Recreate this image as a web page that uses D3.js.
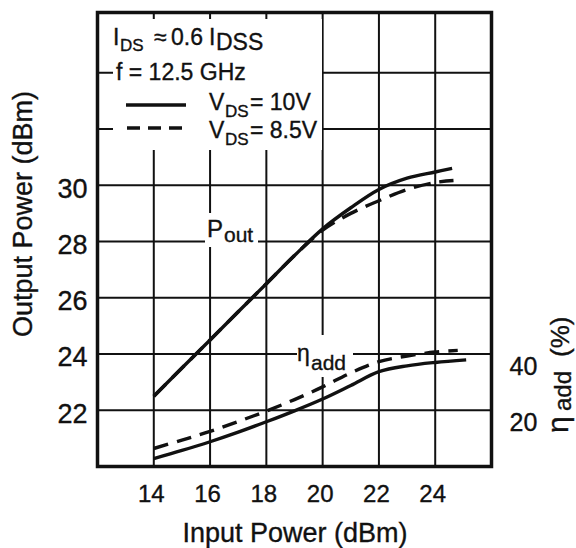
<!DOCTYPE html>
<html><head><meta charset="utf-8">
<script src="https://cdn.jsdelivr.net/npm/d3@7"></script>
<style>
body{margin:0;background:#fff}
svg{display:block;background:#fff}
text{font-family:"Liberation Sans",Arial,Helvetica,sans-serif;fill:#111;stroke:#111;stroke-width:0.35px}
</style>
</head><body><svg id="c" width="576" height="548"></svg>
<script>
// ---- data ----
const xTicks = [14, 16, 18, 20, 22, 24];
const yTicks = [22, 24, 26, 28, 30];
const etaTicks = [20, 40];
const xGrid = [14, 16, 18, 20, 22, 24];
const yGrid = [22, 24, 26, 28, 30, 32, 34];

const xPoutSolid = [14, 15, 16, 17, 18, 19, 20, 21, 22, 23, 24, 24.6];
const poutSolid  = [22.5, 23.5, 24.5, 25.5, 26.5, 27.5, 28.45, 29.2, 29.85, 30.25, 30.47, 30.6];
const xPoutDashed = [14, 15, 16, 17, 18, 19, 20, 21, 22, 23, 24, 24.65];
const poutDashed  = [22.5, 23.5, 24.5, 25.5, 26.5, 27.5, 28.4, 29.0, 29.45, 29.85, 30.1, 30.17];

const xEtaSolid = [14, 15, 16, 17, 18, 19, 20, 21, 22, 23, 24, 25.1];
const etaSolid  = [2.8, 5.7, 8.8, 12.2, 15.9, 19.8, 24.0, 28.8, 33.7, 35.8, 37.0, 37.9];
const xEtaDashed = [14, 15, 16, 17, 18, 19, 20, 21, 22, 23, 24, 24.8];
const etaDashed  = [6.4, 9.4, 12.5, 16.0, 19.7, 23.8, 28.3, 33.3, 37.3, 39.3, 40.7, 41.3];

// ---- chart ----
(function () {
const svg = d3.select("#c");
const x = d3.scaleLinear().domain([12, 26]).range([97.5, 491.5]);
const y = d3.scaleLinear().domain([20, 36]).range([466.5, 16.5]);
const eta = d3.scaleLinear().domain([0, 160]).range([466.5, 16.5]);
const fTop = 12.5, fBottom = 466.5, fLeft = 97.5, fRight = 491.5;
const ink = "#111";

// grid
svg.append("g").selectAll("line").data(xGrid).join("line")
  .attr("x1", d => x(d)).attr("x2", d => x(d)).attr("y1", fTop).attr("y2", fBottom)
  .attr("stroke", ink).attr("stroke-width", 2);
svg.append("g").selectAll("line").data(yGrid).join("line")
  .attr("y1", d => y(d)).attr("y2", d => y(d)).attr("x1", fLeft).attr("x2", fRight)
  .attr("stroke", ink).attr("stroke-width", 2);

// white label boxes
svg.append("rect").attr("x", 113).attr("y", 19).attr("width", 209).attr("height", 131).attr("fill", "#fff");
svg.append("rect").attr("x", 205).attr("y", 213).attr("width", 53).attr("height", 34).attr("fill", "#fff");
svg.append("rect").attr("x", 297).attr("y", 335).attr("width", 56).attr("height", 42).attr("fill", "#fff");

// frame
svg.append("rect").attr("x", fLeft).attr("y", fTop).attr("width", fRight - fLeft).attr("height", fBottom - fTop)
  .attr("fill", "none").attr("stroke", ink).attr("stroke-width", 3.5);

// curves
const lineP = d3.line().x(d => x(d[0])).y(d => y(d[1])).curve(d3.curveCatmullRom.alpha(0.5));
const lineE = d3.line().x(d => x(d[0])).y(d => eta(d[1])).curve(d3.curveCatmullRom.alpha(0.5));
const curves = [
  {d: lineP(d3.zip(xPoutSolid, poutSolid)), dash: null},
  {d: lineP(d3.zip(xPoutDashed, poutDashed)), dash: "17,9"},
  {d: lineE(d3.zip(xEtaSolid, etaSolid)), dash: null},
  {d: lineE(d3.zip(xEtaDashed, etaDashed)), dash: "15,9"}
];
svg.append("g").selectAll("path").data(curves).join("path")
  .attr("d", c => c.d).attr("fill", "none").attr("stroke", ink)
  .attr("stroke-width", 3.4).attr("stroke-dasharray", c => c.dash);

// axes
const gl = svg.append("g").attr("transform", `translate(${fLeft},0)`)
  .call(d3.axisLeft(y).tickValues(yTicks).tickSize(0).tickPadding(10));
gl.select(".domain").remove();
gl.selectAll("text").attr("font-size", 27).attr("dy", "0.44em")
  .style("font-family", '"Liberation Sans",Arial,sans-serif').attr("fill", ink);

const gr = svg.append("g").attr("transform", `translate(${fRight},0)`)
  .call(d3.axisRight(eta).tickValues(etaTicks).tickSize(0).tickPadding(18));
gr.select(".domain").remove();
gr.selectAll("text").attr("font-size", 25).attr("dy", "0.82em")
  .style("font-family", '"Liberation Sans",Arial,sans-serif').attr("fill", ink);

const gb = svg.append("g").attr("transform", `translate(0,${fBottom})`)
  .call(d3.axisBottom(x).tickValues(xTicks).tickSize(0).tickPadding(18.5));
gb.select(".domain").remove();
gb.selectAll("text").attr("font-size", 24).attr("dx", -3)
  .style("font-family", '"Liberation Sans",Arial,sans-serif').attr("fill", ink);

// axis titles
svg.append("text").attr("x", 295).attr("y", 542).attr("text-anchor", "middle")
  .attr("font-size", 27).text("Input Power (dBm)");
svg.append("text").attr("transform", "translate(32,214) rotate(-90)").attr("text-anchor", "middle")
  .attr("font-size", 27).text("Output Power (dBm)");
svg.append("text").attr("transform", "translate(568,433) rotate(-90)")
  .attr("font-size", 30).text("η");
svg.append("text").attr("transform", "translate(571,411) rotate(-90)")
  .attr("font-size", 24).text("add");
svg.append("text").attr("transform", "translate(569,357) rotate(-90)")
  .attr("font-size", 26).text("(%)");

// legend
const lt = svg.append("g");
lt.append("text").attr("x", 113).attr("y", 45).attr("font-size", 23).text("I");
lt.append("text").attr("x", 120).attr("y", 51).attr("font-size", 17).text("DS");
lt.append("text").attr("x", 154).attr("y", 45).attr("font-size", 23).text("≈");
lt.append("text").attr("x", 171).attr("y", 45).attr("font-size", 23).text("0.6");
lt.append("text").attr("x", 209).attr("y", 45).attr("font-size", 23).text("I");
lt.append("text").attr("x", 216).attr("y", 50).attr("font-size", 23).text("DSS");
lt.append("text").attr("x", 116).attr("y", 80).attr("font-size", 23).text("f = 12.5 GHz");
lt.append("line").attr("x1", 126).attr("x2", 186).attr("y1", 105).attr("y2", 105)
  .attr("stroke", ink).attr("stroke-width", 3.4);
lt.append("line").attr("x1", 127).attr("x2", 182).attr("y1", 128).attr("y2", 128)
  .attr("stroke", ink).attr("stroke-width", 3.4).attr("stroke-dasharray", "13,8");
lt.append("text").attr("x", 209).attr("y", 110).attr("font-size", 23).text("V");
lt.append("text").attr("x", 225).attr("y", 117).attr("font-size", 17).text("DS");
lt.append("text").attr("x", 250).attr("y", 110).attr("font-size", 23).text("= 10V");
lt.append("text").attr("x", 209).attr("y", 138).attr("font-size", 23).text("V");
lt.append("text").attr("x", 225).attr("y", 145).attr("font-size", 17).text("DS");
lt.append("text").attr("x", 250).attr("y", 138).attr("font-size", 23).text("= 8.5V");

// curve labels
svg.append("text").attr("x", 207).attr("y", 237).attr("font-size", 24).text("P");
svg.append("text").attr("x", 224).attr("y", 242).attr("font-size", 21).text("out");
svg.append("text").attr("x", 297).attr("y", 361).attr("font-size", 23).text("η");
svg.append("text").attr("x", 311).attr("y", 370).attr("font-size", 21).text("add");
})();
</script></body></html>
